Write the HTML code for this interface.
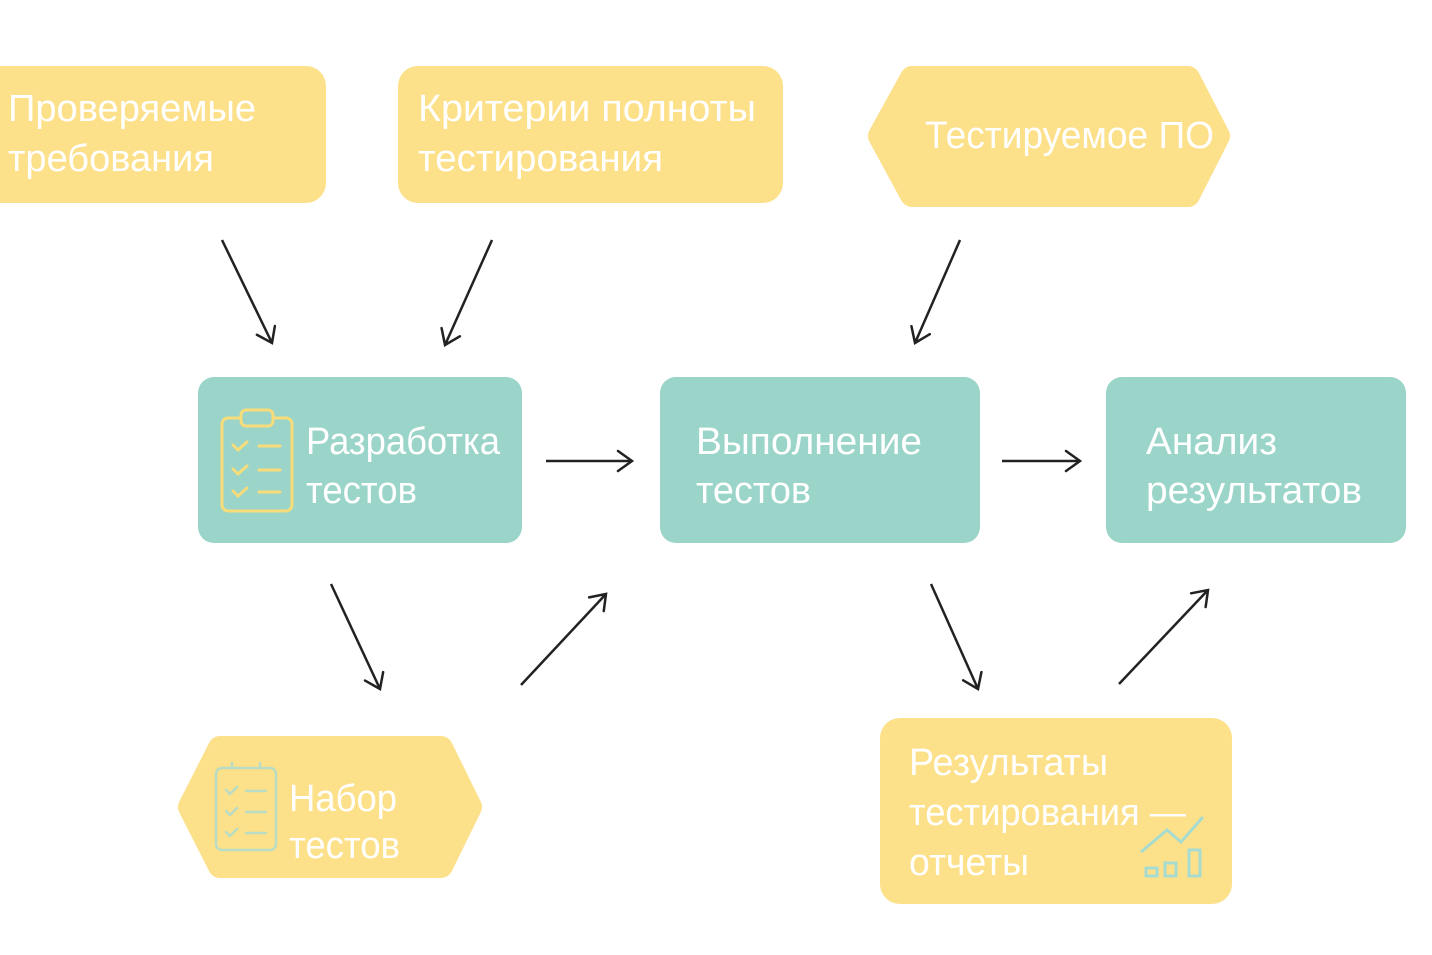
<!DOCTYPE html>
<html><head><meta charset="utf-8"><style>
html,body{margin:0;padding:0;background:#fff;}
svg{display:block;}
text{font-family:"Liberation Sans","DejaVu Sans",sans-serif;fill:#fff;font-size:38px;}
</style></head><body>
<svg width="1432" height="955" viewBox="0 0 1432 955">
<defs>
<marker id="a" markerWidth="20" markerHeight="24" refX="16" refY="12" orient="auto" markerUnits="userSpaceOnUse" viewBox="0 0 20 24">
<path d="M2,2 L16,12 L2,22" fill="none" stroke="#222" stroke-width="2.5" stroke-linecap="round"/>
</marker>
</defs>
<g fill="#FDE08A">
<rect x="-20" y="66" width="346" height="137" rx="20"/>
<rect x="398" y="66" width="385" height="137" rx="20"/>
<polygon points="880,136 912,78 1188,78 1218,136 1188,195 912,195" stroke="#FDE08A" stroke-width="24" stroke-linejoin="round"/>
<polygon points="190,807 220,748 441,748 470,807 441,866 220,866" stroke="#FDE08A" stroke-width="24" stroke-linejoin="round"/>
<rect x="880" y="718" width="352" height="186" rx="20"/>
</g>
<g fill="#9BD4C9">
<rect x="198" y="377" width="324" height="166" rx="16"/>
<rect x="660" y="377" width="320" height="166" rx="16"/>
<rect x="1106" y="377" width="300" height="166" rx="16"/>
</g>
<g fill="none" stroke="#F7DC7A" stroke-width="3" stroke-linecap="round">
<rect x="222" y="418" width="70" height="93" rx="6"/>
<rect x="241" y="410" width="32" height="16" rx="5" fill="#9BD4C9"/>
<path d="M233,445 l5,5 l9,-8 M259,446 h21 M233,469 l5,5 l9,-8 M259,470 h21 M233,491 l5,5 l9,-8 M259,492 h21"/>
</g>
<g fill="none" stroke="#B9DCC4" stroke-width="2.5" stroke-linecap="round">
<rect x="216" y="768" width="60" height="82" rx="6"/>
<path d="M232,768 v-5 M260,768 v-5"/>
<path d="M226,790 l4,4 l7,-7 M246,791 h20 M226,811 l4,4 l7,-7 M246,812 h20 M226,832 l4,4 l7,-7 M246,833 h20"/>
</g>
<g fill="none" stroke="#A6DCD0" stroke-width="3">
<path d="M1141,852 l26,-22 l14,12 l22,-25"/>
<rect x="1146" y="868" width="11" height="8"/>
<rect x="1165" y="863" width="11" height="13"/>
<rect x="1189" y="850" width="11" height="26"/>
</g>
<g stroke="#222" stroke-width="2.5" fill="none" marker-end="url(#a)">
<line x1="222" y1="240" x2="272" y2="343"/>
<line x1="492" y1="240" x2="445" y2="345"/>
<line x1="960" y1="240" x2="915" y2="343"/>
<line x1="546" y1="461" x2="632" y2="461"/>
<line x1="1002" y1="461" x2="1080" y2="461"/>
<line x1="331" y1="584" x2="380" y2="689"/>
<line x1="521" y1="685" x2="606" y2="594"/>
<line x1="931" y1="584" x2="978" y2="689"/>
<line x1="1119" y1="684" x2="1208" y2="590"/>
</g>
<text x="8" y="121" textLength="248" lengthAdjust="spacingAndGlyphs">Проверяемые</text>
<text x="8" y="171" textLength="206" lengthAdjust="spacingAndGlyphs">требования</text>
<text x="418" y="121" textLength="338" lengthAdjust="spacingAndGlyphs">Критерии полноты</text>
<text x="418" y="171" textLength="245" lengthAdjust="spacingAndGlyphs">тестирования</text>
<text x="925" y="148" textLength="289" lengthAdjust="spacingAndGlyphs">Тестируемое ПО</text>
<text x="306" y="454" textLength="194" lengthAdjust="spacingAndGlyphs">Разработка</text>
<text x="306" y="503" textLength="111" lengthAdjust="spacingAndGlyphs">тестов</text>
<text x="696" y="454" textLength="226" lengthAdjust="spacingAndGlyphs">Выполнение</text>
<text x="696" y="503" textLength="115" lengthAdjust="spacingAndGlyphs">тестов</text>
<text x="1146" y="454" textLength="131" lengthAdjust="spacingAndGlyphs">Анализ</text>
<text x="1146" y="503" textLength="216" lengthAdjust="spacingAndGlyphs">результатов</text>
<text x="289" y="811" textLength="108" lengthAdjust="spacingAndGlyphs">Набор</text>
<text x="289" y="858" textLength="111" lengthAdjust="spacingAndGlyphs">тестов</text>
<text x="909" y="775" textLength="199" lengthAdjust="spacingAndGlyphs">Результаты</text>
<text x="909" y="825" textLength="277" lengthAdjust="spacingAndGlyphs">тестирования —</text>
<text x="909" y="875" textLength="120" lengthAdjust="spacingAndGlyphs">отчеты</text>
</svg>
</body></html>
